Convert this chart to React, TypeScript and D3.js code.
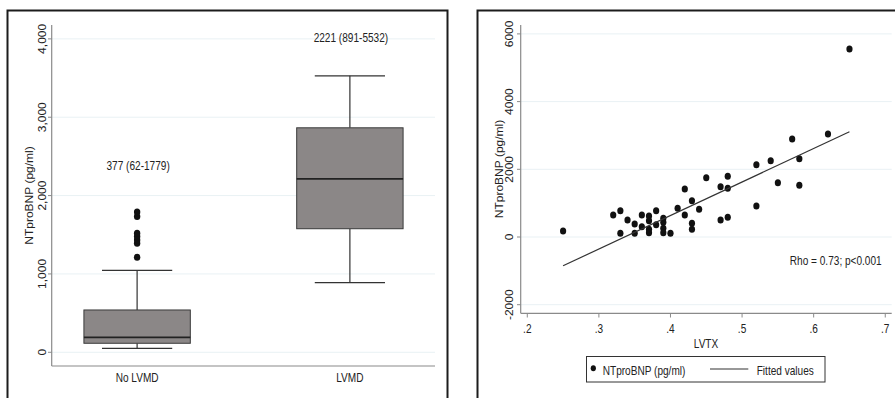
import React from "react";
import * as d3 from "d3";

// ---------- Left panel: box plot data ----------
const groups = ["No LVMD", "LVMD"];
const whiskerLow = [51, 888];
const q1 = [115, 1577];
const median = [191, 2214];
const q3 = [540, 2865];
const whiskerHigh = [1046, 3528];
const outliersNoLVMD = [1213, 1392, 1434, 1477, 1520, 1732, 1790];
const groupNotes = ["377 (62-1779)", "2221 (891-5532)"];
const noteValues = [2380, 4010];
const leftTicks = [0, 1000, 2000, 3000, 4000];

// ---------- Right panel: scatter data ----------
const lvtx = [
  0.25, 0.32, 0.33, 0.33, 0.34, 0.35, 0.35, 0.36, 0.36, 0.37, 0.37, 0.37, 0.37,
  0.38, 0.38, 0.39, 0.39, 0.39, 0.39, 0.40, 0.41, 0.42, 0.42, 0.43, 0.43, 0.43,
  0.44, 0.45, 0.47, 0.47, 0.48, 0.48, 0.48, 0.52, 0.52, 0.54, 0.55, 0.57, 0.58,
  0.58, 0.62, 0.65,
];
const ntprobnp = [
  180, 650, 778, 108, 502, 384, 108, 650, 305, 620, 483, 227, 128,
  778, 365, 552, 433, 256, 128, 108, 847, 1419, 650, 1074, 404, 227,
  818, 1754, 1488, 502, 1793, 1438, 581, 2138, 916, 2256, 1606, 2896, 2315,
  1527, 3044, 5557,
];
const fitX = [0.25, 0.65];
const fitY = [-850, 3110];
const rightXTicks = [0.2, 0.3, 0.4, 0.5, 0.6, 0.7];
const rightYTicks = [-2000, 0, 2000, 4000, 6000];
const statNote = "Rho = 0.73; p<0.001";

const FONT = "'Liberation Sans', Arial, Helvetica, sans-serif";
const TXT = "#222";
const AXIS = "#8a8a8a";
const GRID = "#e9f1f4";
const SX = 0.84; // horizontal squeeze of the original image

function HText({ x, y, anchor = "middle", children, size = 12 }: any) {
  return (
    <g transform={`translate(${x},${y}) scale(${SX},1)`}>
      <text x={0} y={0} textAnchor={anchor} fontSize={size} fill={TXT} fontFamily={FONT}>
        {children}
      </text>
    </g>
  );
}

function VText({ x, y, children, size = 12 }: any) {
  return (
    <g transform={`translate(${x},${y}) scale(${SX},1) rotate(-90)`}>
      <text x={0} y={0} textAnchor="middle" fontSize={size} fill={TXT} fontFamily={FONT}>
        {children}
      </text>
    </g>
  );
}

export default function App() {
  // Left scales
  const lx = d3.scalePoint<string>().domain(groups).range([52, 435]).padding(0.4);
  const ly = d3.scaleLinear().domain([-175, 4177]).range([366, 25]);
  const step = lx.step();
  const boxW = step * 0.5;
  const capW = step * 0.33;

  // Right scales
  const rx = d3.scaleLinear().domain([0.1908, 0.709]).range([520.7, 891.7]);
  const ry = d3.scaleLinear().domain([-2254, 6263]).range([313.3, 25]);
  const fitLine = d3
    .line<number>()
    .x((_, i) => rx(fitX[i]))
    .y((d) => ry(d));

  return (
    <svg
      width={895}
      height={398}
      style={{ position: "absolute", left: 0, top: 0, background: "#fff" }}
    >
      <rect x={0} y={0} width={895} height={398} fill="#fff" />

      {/* ---------- LEFT PANEL ---------- */}
      <rect x={7.5} y={10.5} width={440} height={400} fill="none" stroke="#1c1c1c" strokeWidth={2} />
      {leftTicks.map((t) => (
        <line key={"lg" + t} x1={52} x2={435} y1={ly(t)} y2={ly(t)} stroke={GRID} strokeWidth={1} />
      ))}
      <line x1={51.7} x2={51.7} y1={25} y2={366} stroke={AXIS} strokeWidth={1.2} />
      <line x1={51.7} x2={435} y1={366} y2={366} stroke={AXIS} strokeWidth={1.2} />
      {leftTicks.map((t) => (
        <g key={"lt" + t}>
          <line x1={48} x2={51.7} y1={ly(t)} y2={ly(t)} stroke={AXIS} strokeWidth={1} />
          <VText x={46} y={ly(t)}>{d3.format(",")(t)}</VText>
        </g>
      ))}
      <VText x={33} y={195.5}>NTproBNP (pg/ml)</VText>

      {groups.map((g, i) => {
        const cx = lx(g)!;
        return (
          <g key={g}>
            <line x1={cx} x2={cx} y1={ly(whiskerHigh[i])} y2={ly(q3[i])} stroke="#333" strokeWidth={1.2} />
            <line x1={cx} x2={cx} y1={ly(q1[i])} y2={ly(whiskerLow[i])} stroke="#333" strokeWidth={1.2} />
            <line x1={cx - capW / 2} x2={cx + capW / 2} y1={ly(whiskerHigh[i])} y2={ly(whiskerHigh[i])} stroke="#333" strokeWidth={1.2} />
            <line x1={cx - capW / 2} x2={cx + capW / 2} y1={ly(whiskerLow[i])} y2={ly(whiskerLow[i])} stroke="#333" strokeWidth={1.2} />
            <rect
              x={cx - boxW / 2}
              y={ly(q3[i])}
              width={boxW}
              height={ly(q1[i]) - ly(q3[i])}
              fill="#8b8787"
              stroke="#3a3a3a"
              strokeWidth={1}
            />
            <line x1={cx - boxW / 2} x2={cx + boxW / 2} y1={ly(median[i])} y2={ly(median[i])} stroke="#222" strokeWidth={1.8} />
            <HText x={cx + 1} y={ly(noteValues[i]) + 4}>{groupNotes[i]}</HText>
            <HText x={cx} y={382}>{g}</HText>
          </g>
        );
      })}
      {outliersNoLVMD.map((v, i) => (
        <ellipse key={"o" + i} cx={lx(groups[0])!} cy={ly(v)} rx={3.2} ry={3.5} fill="#111" />
      ))}

      {/* ---------- RIGHT PANEL ---------- */}
      <rect x={477.5} y={10.5} width={430} height={400} fill="none" stroke="#1c1c1c" strokeWidth={2} />
      {rightYTicks.map((t) => (
        <line key={"rg" + t} x1={520.7} x2={891.7} y1={ry(t)} y2={ry(t)} stroke={GRID} strokeWidth={1} />
      ))}
      <line x1={520.7} x2={520.7} y1={25} y2={313.3} stroke={AXIS} strokeWidth={1.2} />
      <line x1={520.7} x2={891.7} y1={313.3} y2={313.3} stroke={AXIS} strokeWidth={1.2} />
      {rightYTicks.map((t) => (
        <g key={"ryt" + t}>
          <line x1={517} x2={520.7} y1={ry(t)} y2={ry(t)} stroke={AXIS} strokeWidth={1} />
          <VText x={513} y={ry(t)}>{String(t)}</VText>
        </g>
      ))}
      {rightXTicks.map((t) => (
        <g key={"rxt" + t}>
          <line x1={rx(t)} x2={rx(t)} y1={313.3} y2={317.5} stroke={AXIS} strokeWidth={1} />
          <HText x={rx(t)} y={332.5}>{d3.format(".1f")(t).replace(/^0/, "")}</HText>
        </g>
      ))}
      <HText x={706} y={347.5}>LVTX</HText>
      <VText x={503} y={169}>NTproBNP (pg/ml)</VText>

      {lvtx.map((x, i) => (
        <ellipse key={"p" + i} cx={rx(x)} cy={ry(ntprobnp[i])} rx={3.1} ry={3.5} fill="#111" />
      ))}
      <path d={fitLine(fitY) || ""} fill="none" stroke="#333" strokeWidth={1.2} />
      <HText x={881.7} y={265} anchor="end">{statNote}</HText>

      {/* Legend */}
      <rect x={586.5} y={356.5} width={238.5} height={25.5} fill="#fff" stroke="#333" strokeWidth={1} />
      <ellipse cx={593.3} cy={368.3} rx={2.6} ry={3} fill="#111" />
      <HText x={602.7} y={375} anchor="start">NTproBNP (pg/ml)</HText>
      <line x1={710} x2={748.3} y1={369} y2={369} stroke="#333" strokeWidth={1.2} />
      <HText x={756.7} y={375} anchor="start">Fitted values</HText>
    </svg>
  );
}
